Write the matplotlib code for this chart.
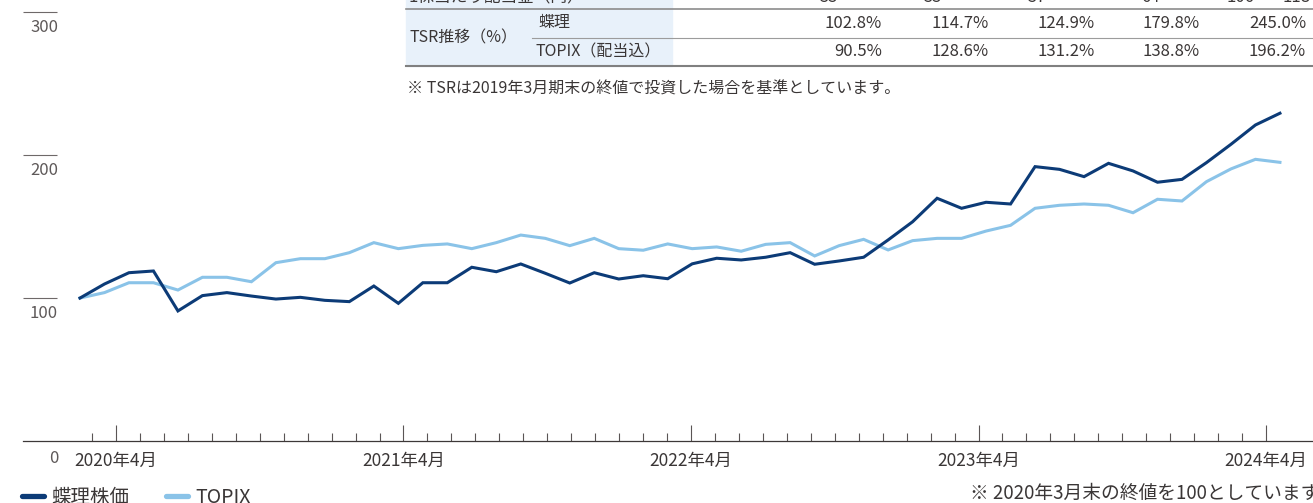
import numpy as np
import matplotlib
matplotlib.use("Agg")
from matplotlib import pyplot as plt
from matplotlib import transforms as mtrans
from matplotlib.lines import Line2D
from matplotlib.patches import Rectangle

plt.rcParams["font.family"] = ["Noto Sans CJK JP", "DejaVu Sans"]

# month-end index, 2020-03 = 100 (one point per month, 2020/3 .. 2024/4)
chori = [100, 109.8, 117.7, 118.9, 91.0, 101.7, 103.8, 101.4, 99.3, 100.5,
         98.4, 97.5, 108.4, 96.3, 110.7, 110.7, 121.5, 118.4, 123.8, 117.3,
         110.5, 117.7, 113.3, 115.6, 113.5, 123.9, 127.8, 126.6, 128.5, 131.7,
         123.6, 125.9, 128.5, 140.6, 153.3, 169.7, 162.7, 166.9, 165.7, 191.8,
         189.9, 184.8, 194.1, 188.8, 180.9, 182.9, 194.6, 207.4, 220.9, 229.1]
topix = [100, 103.8, 110.7, 110.7, 105.6, 114.5, 114.5, 111.4, 124.7, 127.5,
         127.5, 131.7, 138.7, 134.5, 136.8, 137.8, 134.5, 138.7, 144.0, 141.7,
         136.6, 141.7, 134.5, 133.4, 137.8, 134.5, 135.7, 132.7, 137.5, 138.7,
         129.4, 136.6, 141.0, 133.6, 140.1, 141.7, 141.7, 146.8, 150.8, 162.7,
         164.8, 165.7, 164.8, 159.6, 169.0, 167.8, 181.3, 190.2, 196.9, 194.8]
series_names = ["蝶理株価", "TOPIX"]
year_labels = ["2020年4月", "2021年4月", "2022年4月", "2023年4月", "2024年4月"]
y_labels = [0, 100, 200, 300]

# table fragment above the chart (its first row is cut by the image edge)
div_label = "1株当たり配当金（円）"
div_values = ["55", "55", "57", "64", "106", "118"]
tsr_label = "TSR推移（%）"
tsr_rows = ["蝶理", "TOPIX（配当込）"]
tsr_chori = ["102.8%", "114.7%", "124.9%", "179.8%", "245.0%"]
tsr_topix = ["90.5%", "128.6%", "131.2%", "138.8%", "196.2%"]
tsr_note = "※ TSRは2019年3月期末の終値で投資した場合を基準としています。"
base_note = "※ 2020年3月末の終値を100としています。"

DARK = "#0c3b77"
LIGHT = "#8ac3e8"
TEXT = "#3a3636"
AXIS = "#3d3838"

W, H = 1313, 503
fig = plt.figure(figsize=(W / 100, H / 100), dpi=100)


def fx(px):
    return px / W


def fy(py):
    return 1 - py / H


ax = fig.add_axes([fx(23), fy(441.2), fx(1313) - fx(23), 441.2 / H])
ax.patch.set_visible(False)

x = np.arange(len(chori))
ax.plot(x, topix, color=LIGHT, lw=2.2, solid_joinstyle="miter")
ax.plot(x, chori, color=DARK, lw=2.2, solid_joinstyle="miter")

ax.set_xlim(-2.327, 50.35)
ax.set_ylim(0, 308.2)

for s in ["top", "right", "left"]:
    ax.spines[s].set_visible(False)
ax.spines["bottom"].set_color(AXIS)
ax.spines["bottom"].set_linewidth(0.9)

# monthly ticks of the printed grid (slightly tighter than the point spacing)
tick_start, tick_step = 0.49, 0.9784
ticks = tick_start + tick_step * np.arange(50)
major_idx = [1, 13, 25, 37, 49]
ax.set_xticks(ticks[major_idx])
ax.set_xticklabels(year_labels)
ax.set_xticks(np.delete(ticks, major_idx), minor=True)
ax.tick_params(axis="x", which="major", direction="in", length=11.5, width=0.8,
               color="#5a5555", labelsize=12.5, labelcolor=TEXT, pad=7.5)
ax.tick_params(axis="x", which="minor", direction="in", length=5.8, width=0.8,
               color="#5a5555")

ax.set_yticks(y_labels[1:])
ax.tick_params(axis="y", direction="in", length=24.5, width=0.8, color="#6e6969",
               labelleft=False)
ytrans = mtrans.blended_transform_factory(ax.transAxes, ax.transData)
for v in y_labels:
    off = 22 if v == 0 else 20
    t = mtrans.offset_copy(ytrans, fig=fig, x=0, y=-off, units="dots")
    ax.text((58 - 23) / 1290, v, str(v), transform=t, ha="right", va="baseline",
            fontsize=12, color="#5e5959")

# legend
handles = [Line2D([], [], color=DARK, lw=3.8, solid_capstyle="round"),
           Line2D([], [], color=LIGHT, lw=3.8, solid_capstyle="round")]
fig.legend(handles, series_names, loc="lower left",
           bbox_to_anchor=(fx(21), -0.012), ncol=2, frameon=False, fontsize=14,
           handlelength=1.15, handletextpad=0.35, columnspacing=1.9,
           borderpad=0.05, borderaxespad=0.0, labelcolor=TEXT)
fig.text(fx(970), fy(499), base_note, fontsize=13.5, color=TEXT,
         ha="left", va="baseline")

# table
fig.add_artist(Rectangle((fx(406), fy(66)), fx(672) - fx(406), fy(-5) - fy(66),
                         transform=fig.transFigure, color="#e8f1fa", zorder=0))
fig.add_artist(Line2D([fx(406), fx(1313)], [fy(9), fy(9)], color="#8c8c8c",
                      lw=1.2, transform=fig.transFigure))
fig.add_artist(Line2D([fx(532), fx(1313)], [fy(38), fy(38)], color="#9c9c9c",
                      lw=0.8, transform=fig.transFigure))
fig.add_artist(Line2D([fx(406), fx(1313)], [fy(66), fy(66)], color="#808080",
                      lw=1.5, transform=fig.transFigure))

col_right = [882, 989, 1095, 1200, 1306]
div_x = [838, 942, 1046, 1160, 1255, 1310]
fig.text(fx(409), fy(-3), div_label, fontsize=12, color=TEXT, ha="left", va="center")
for px, v in zip(div_x, div_values):
    fig.text(fx(px), fy(-3), v, fontsize=12, color=TEXT, ha="right", va="center")
fig.text(fx(409), fy(37.5), tsr_label, fontsize=11.5, color=TEXT, ha="left",
         va="center")
fig.text(fx(538), fy(23), tsr_rows[0], fontsize=11.5, color=TEXT, ha="left",
         va="center")
fig.text(fx(535), fy(52), tsr_rows[1], fontsize=11.5, color=TEXT, ha="left",
         va="center")
for px, a, b in zip(col_right, tsr_chori, tsr_topix):
    fig.text(fx(px), fy(23), a, fontsize=12, color=TEXT, ha="right", va="center")
    fig.text(fx(px), fy(52), b, fontsize=12, color=TEXT, ha="right", va="center")
fig.text(fx(407), fy(89), tsr_note, fontsize=11.5, color=TEXT, ha="left",
         va="center")

fig.savefig("out.png", dpi=100)
